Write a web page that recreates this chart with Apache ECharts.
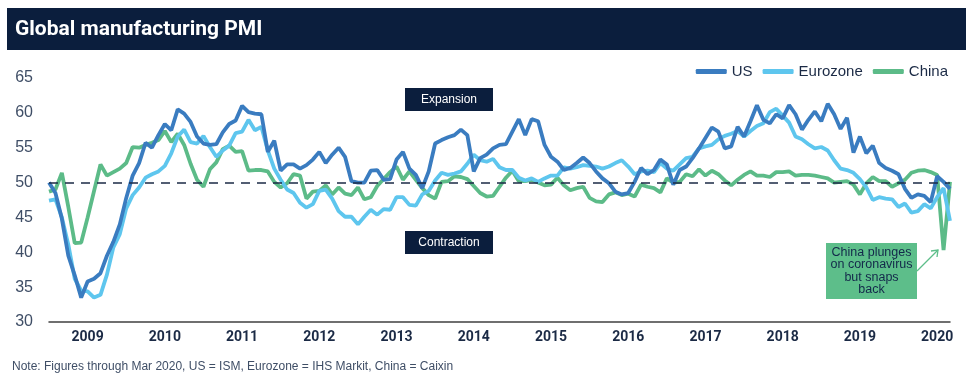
<!DOCTYPE html>
<html>
<head>
<meta charset="utf-8">
<script src="https://cdn.jsdelivr.net/npm/echarts@6/dist/echarts.min.js"></script>
<style>html,body{margin:0;padding:0;background:#fff}#c{width:973px;height:382px}</style>
</head>
<body>
<div id="c"></div>
<script>
// Monthly data, Jul 2008 .. Mar 2020
const startYear = 2008, startMonth = 7, nMonths = 141;
const yearLabels = ['2009','2010','2011','2012','2013','2014','2015','2016','2017','2018','2019','2020'];
const yTicks = [30, 35, 40, 45, 50, 55, 60, 65];

const us = [
50.0,48.5,44.8,39.5,36.7,33.5,
35.8,36.2,37.0,39.5,41.5,44.0,47.8,51.0,52.8,55.7,55.0,56.8,
58.4,57.5,60.5,59.9,58.7,56.6,55.6,55.4,55.5,57.2,58.4,58.9,
61.0,60.1,59.9,59.8,54.4,56.0,51.7,52.6,52.6,52.0,52.5,53.3,
54.4,52.8,54.0,55.0,53.7,50.2,50.0,50.0,51.7,51.8,50.4,50.5,
53.3,54.4,52.0,51.1,49.2,51.6,55.6,56.1,56.5,56.8,57.6,56.8,
51.6,53.5,54.0,54.9,55.4,55.5,57.3,59.1,56.8,59.1,58.8,55.4,
53.7,53.0,51.8,52.1,52.8,53.6,52.8,51.6,50.6,49.9,48.7,48.3,
48.5,50.1,52.1,51.2,51.8,53.3,52.6,49.7,51.8,52.3,53.5,54.9,
56.4,57.9,57.3,54.9,55.2,58.0,56.6,58.8,61.1,59.0,58.5,59.8,
59.2,61.1,59.8,57.6,59.0,60.2,58.8,61.3,59.8,57.7,59.3,54.3,
56.6,54.2,55.3,52.8,52.1,51.7,51.2,49.1,47.8,48.3,48.1,47.2,
50.9,50.1,49.1
];
const eurozone = [
47.4,47.6,45.0,41.1,36.2,34.5,
34.4,33.5,33.9,36.8,40.7,42.6,46.3,48.2,49.3,50.7,51.2,51.6,
52.4,54.2,56.6,57.6,55.8,55.6,56.7,55.1,53.7,54.6,55.3,57.1,
57.3,59.0,57.5,58.0,54.6,52.0,50.4,49.0,48.5,47.1,46.4,46.9,
48.8,49.0,47.7,45.9,45.1,45.1,44.0,45.1,46.1,45.4,46.2,46.1,
47.9,47.9,46.8,46.7,48.3,48.8,50.3,51.4,51.1,51.3,51.6,52.7,
54.0,53.2,53.0,53.4,52.2,51.8,51.8,50.7,50.3,50.6,50.1,50.6,
51.0,51.0,52.2,52.0,52.2,52.5,52.4,52.3,52.0,52.3,52.8,53.2,
52.3,51.2,51.6,51.7,51.5,52.8,52.0,51.7,52.6,53.5,53.7,54.9,
55.2,55.4,56.2,56.7,57.0,57.4,56.6,57.4,58.1,58.5,60.1,60.6,
59.6,58.6,56.6,56.2,55.5,54.9,55.1,54.6,53.2,52.0,51.8,51.4,
50.5,49.3,47.5,47.9,47.7,47.6,46.5,47.0,45.7,45.9,46.9,46.3,
47.9,49.2,44.5
];
const china = [
48.7,49.0,51.4,46.5,41.3,41.4,
45.0,48.8,52.6,51.0,51.5,52.0,52.8,55.1,55.0,55.4,55.7,56.1,
57.4,55.8,57.0,55.4,52.7,50.4,49.4,51.9,52.9,54.8,55.3,54.4,
54.5,51.7,51.8,51.8,51.6,50.1,49.3,49.9,51.2,51.0,47.7,48.7,
48.8,49.6,48.3,49.3,48.4,48.2,49.3,47.6,47.9,49.5,50.5,51.5,
52.3,50.4,51.6,50.4,49.2,48.2,47.7,50.1,50.2,50.9,50.8,50.5,
49.5,48.5,48.0,48.1,49.4,50.7,51.7,50.2,50.2,50.4,50.0,49.6,
49.7,50.7,49.6,48.9,49.2,49.4,47.8,47.3,47.2,48.3,48.6,48.2,
48.4,48.0,49.7,49.4,49.2,48.6,50.6,50.0,50.1,51.2,50.9,51.9,
51.0,51.7,51.2,50.3,49.6,50.4,51.1,51.6,51.0,51.0,50.8,51.5,
51.5,51.6,51.0,51.1,51.1,51.0,50.8,50.6,50.0,50.1,50.2,49.7,
48.3,49.9,50.8,50.2,50.2,49.4,49.9,50.4,51.4,51.7,51.8,51.5,
51.1,40.3,50.1
];

const months = [];
for (let i = 0; i < nMonths; i++) {
  const t = startMonth - 1 + i;
  const y = startYear + Math.floor(t / 12);
  const m = (t % 12) + 1;
  months.push(y + '-' + (m < 10 ? '0' + m : m));
}

const C_US = '#3a7cc0', C_EZ = '#5ec6ee', C_CN = '#5cbb88', NAVY = '#0b1e3d', TXT = '#3f4e66';
const SANS = '"Liberation Sans", Arial, sans-serif';

const chart = echarts.init(document.getElementById('c'), null, {renderer: 'canvas'});
chart.setOption({
  animation: false,
  backgroundColor: '#ffffff',
  textStyle: {fontFamily: 'Roboto, "Liberation Sans", Arial, sans-serif'},
  grid: {left: 49, right: 23, top: 78, bottom: 60},
  legend: {
    right: 20, top: 59, itemWidth: 31, itemHeight: 5, itemGap: 10,
    icon: 'roundRect',
    textStyle: {color: '#1b2a45', fontSize: 15, fontFamily: SANS},
    data: ['US', 'Eurozone', 'China']
  },
  xAxis: {
    type: 'category', data: months, boundaryGap: false,
    axisLine: {lineStyle: {color: '#404040', width: 1.5}},
    axisTick: {show: false},
    axisLabel: {
      interval: function (idx, val) { return val.slice(5) === '01' && yearLabels.indexOf(val.slice(0, 4)) >= 0; },
      formatter: function (val) { return val.slice(0, 4); },
      color: '#1b2a45', fontSize: 14, fontWeight: 'bold', margin: 8
    },
    splitLine: {show: false}
  },
  yAxis: {
    type: 'value', min: yTicks[0], max: yTicks[yTicks.length - 1], interval: 5,
    axisLine: {show: false}, axisTick: {show: false}, splitLine: {show: false},
    axisLabel: {color: TXT, fontSize: 16, margin: 16, fontFamily: SANS}
  },
  series: [
    {name: 'US', type: 'line', data: us, showSymbol: false, symbol: 'none', lineStyle: {width: 3.8, color: C_US}, itemStyle: {color: C_US}, z: 3},
    {name: 'Eurozone', type: 'line', data: eurozone, showSymbol: false, symbol: 'none', lineStyle: {width: 3.8, color: C_EZ}, itemStyle: {color: C_EZ}, z: 2},
    {name: 'China', type: 'line', data: china, showSymbol: false, symbol: 'none', lineStyle: {width: 3.8, color: C_CN}, itemStyle: {color: C_CN}, z: 1,
      markLine: {silent: true, symbol: 'none', label: {show: false},
        lineStyle: {color: '#1b2a45', type: [9, 7], width: 1.6},
        data: [{yAxis: 50}]}
    }
  ],
  graphic: [
    {type: 'rect', x: 7, y: 8, shape: {x: 0, y: 0, width: 959, height: 42}, style: {fill: NAVY}, z: 10},
    {type: 'text', x: 15, y: 29.5, style: {text: 'Global manufacturing PMI', fill: '#ffffff', font: 'bold 21px Roboto, "Liberation Sans", Arial, sans-serif', align: 'left', verticalAlign: 'middle'}, z: 11},
    {type: 'rect', x: 405, y: 88, shape: {x: 0, y: 0, width: 88, height: 23}, style: {fill: NAVY}, z: 10},
    {type: 'text', x: 449, y: 100, style: {text: 'Expansion', fill: '#ffffff', font: '12px ' + SANS, align: 'center', verticalAlign: 'middle'}, z: 11},
    {type: 'rect', x: 405, y: 231, shape: {x: 0, y: 0, width: 88, height: 23}, style: {fill: NAVY}, z: 10},
    {type: 'text', x: 449, y: 243, style: {text: 'Contraction', fill: '#ffffff', font: '12px ' + SANS, align: 'center', verticalAlign: 'middle'}, z: 11},
    {type: 'rect', x: 826, y: 243, shape: {x: 0, y: 0, width: 91, height: 56}, style: {fill: '#5dbe8a'}, z: 10},
    {type: 'text', x: 871.5, y: 271, style: {text: 'China plunges\non coronavirus\nbut snaps\nback', fill: '#13284a', font: '12.5px ' + SANS, lineHeight: 12.5, align: 'center', verticalAlign: 'middle'}, z: 11},
    {type: 'polyline', shape: {points: [[917, 271], [938, 250]]}, style: {stroke: '#5dbe8a', lineWidth: 1.3, fill: null}, z: 11},
    {type: 'polyline', shape: {points: [[931, 251], [938, 250], [937, 257]]}, style: {stroke: '#5dbe8a', lineWidth: 1.3, fill: null}, z: 11},
    {type: 'text', x: 12, y: 367, style: {text: 'Note: Figures through Mar 2020, US = ISM, Eurozone = IHS Markit, China = Caixin', fill: TXT, font: '12px ' + SANS, align: 'left', verticalAlign: 'middle'}, z: 11}
  ]
});
</script>
</body>
</html>
